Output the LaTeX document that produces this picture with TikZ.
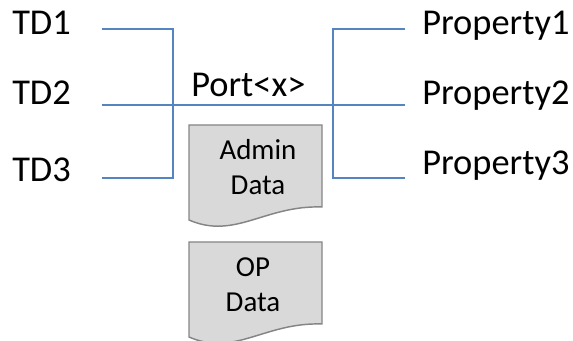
\documentclass[tikz,border=0pt]{standalone}
\usepackage{fontspec}
\setmainfont{Carlito}
\definecolor{wirecol}{HTML}{5585C0}
\definecolor{docline}{HTML}{858585}
\definecolor{docfill}{HTML}{D9D9D9}
\tikzset{
  lbl/.style={anchor=base west, inner sep=0pt, font=\fontsize{27.3}{32}\selectfont},
  wire/.style={draw=wirecol, line width=1.1pt},
  datadoc/.style={draw=docline, fill=docfill, line width=1.1pt},
  doctext/.style={align=center, inner sep=0pt, font=\fontsize{21.7}{26.25}\selectfont},
}
\begin{document}
\begin{tikzpicture}[x=0.75pt, y=-0.75pt]
    \useasboundingbox (0,0) rectangle (573,341);

    % Labels on both sides
    \foreach \name/\txt/\y in {td1/TD1/35, td2/TD2/105, td3/TD3/182} {
        \node[lbl] (\name) at (12,\y) {\txt};
    }
    \foreach \name/\txt/\y in {prop1/Property1/35, prop2/Property2/105, prop3/Property3/175} {
        \node[lbl] (\name) at (422,\y) {\txt};
    }
    \node[lbl] (port) at (191,97) {Port<x>};

    % Line ends and the two vertical bars
    \coordinate (a1) at (102,29);
    \coordinate (a2) at (102,105);
    \coordinate (a3) at (102,178);
    \coordinate (b1) at (173,29);
    \coordinate (b3) at (173,178);
    \coordinate (c1) at (333,29);
    \coordinate (c2) at (338,105);
    \coordinate (c3) at (333,178);
    \coordinate (d1) at (405,29);
    \coordinate (d2) at (405,105);
    \coordinate (d3) at (405,178);

    \draw[wire] (a1) -- (b1) -- (b3) -- (a3);
    \draw[wire] (a2) -- (c2);
    \draw[wire] (d1) -- (c1) -- (c3) -- (d3);
    \draw[wire] (c2) -- (d2);

    % The two data sheets
    \foreach \name/\y in {admin/125, op/242} {
        \draw[datadoc] (189,\y) -- (322,\y) -- (322,\y+82)
            .. controls (265,\y+80) and (235,\y+115) .. (189,\y+95) -- cycle;
    }
    \node[doctext] (admin) at (258,167) {Admin\\Data};
    \node[doctext] (op) at (253,285) {OP\\Data};
\end{tikzpicture}
\end{document}
